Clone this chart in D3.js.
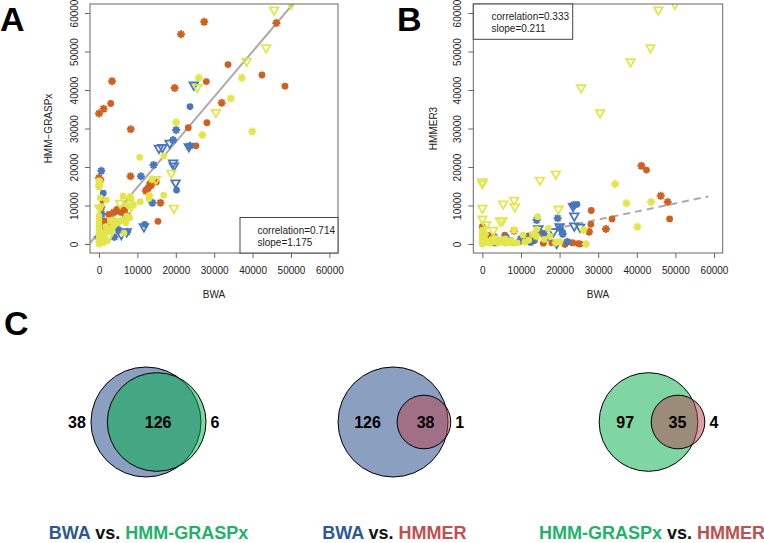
<!DOCTYPE html>
<html><head><meta charset="utf-8">
<script src="https://cdn.jsdelivr.net/npm/d3@7"></script>
<style>body{margin:0;background:#fff}svg{display:block;font-family:"Liberation Sans",Arial,Helvetica,sans-serif}</style>
</head><body><svg id="c" width="764" height="543"></svg>
<script>
// ---------------- DATA ----------------
const axisTicks = [0,10000,20000,30000,40000,50000,60000];
const panelLetters = ["A","B","C"];
const xTitle = "BWA";
const yTitles = ["HMM\u2212GRASPx","HMMER3"];
const statsA = ["correlation=0.714","slope=1.175"];
const statsB = ["correlation=0.333","slope=0.211"];
const fitA = [1.175, 3000];   // slope, intercept
const fitB = [0.211, 0];

// Panel A: [BWA, HMM-GRASPx]
const aOrangeStar = [[3400,42300],[21350,54500],[19700,40500],[8250,29800],[27400,57700],[46200,57400],[31950,36700],[8200,17600],[12800,14500],[0,33900],[1200,35100],[0,17200],[16000,10700],[13500,15200],[12200,13800],[5200,8600],[3800,8200],[600,9500],[7400,7300],[4500,5200]];
const aOrangeCircle = [[3050,36500],[33600,46600],[42450,43900],[48450,41000],[27950,42200],[28100,31500],[23250,30200],[25250,25500],[15350,5900],[2500,7700],[900,11400],[6700,8900],[5800,8200],[4700,9000],[1400,6000],[800,4000],[200,2500],[12500,14200],[13200,15700],[14900,16100],[500,16600],[2800,4200]];
const aBlueStar = [[600,19000],[20100,29600],[10900,17600],[14200,20500],[13900,10700],[7300,3100],[5100,3600],[23700,25500],[19300,27000],[3500,5400],[700,7800],[4000,1800]];
const aBlueCircle = [[23700,35700],[20200,14000],[1100,13200],[11900,5100],[200,6600],[1500,3300],[6800,6800],[3100,4700]];
const aBlueTri = [[24700,41300],[18400,26200],[15600,24900],[19300,21100],[19500,20300],[19950,15900],[23400,25300],[11700,4500],[7200,3200],[2300,4300],[5800,2500],[100,1200],[16500,25100]];
const aYellowStar = [[26000,43200],[37200,43200],[34300,37800],[20100,31600],[26900,28300],[39900,29200],[13800,16800],[8150,12300],[200,16200],[0,15100],[3200,3500],[500,700],[13100,12500]];
const aYellowCircle = [[10600,22500],[16900,22900],[16850,12700],[10750,11000],[6250,12500],[1900,11400],[6500,2800],[13000,11800],[7200,7200],[0,0],[0,800],[0,1600],[0,2400],[0,3200],[0,4000],[0,5000],[0,6200],[0,7300],[300,500],[600,1200],[1000,1800],[1500,2400],[2000,3000],[2500,3500],[3000,4000],[3500,4500],[4000,5000],[4500,5400],[5000,5800],[5500,6000],[6000,6100],[6500,6300],[1200,400],[2200,900],[400,2200],[800,3000],[1800,4500],[200,9500],[0,14800],[0,16400],[0,15500],[300,12000],[7800,9900],[8400,11600],[9000,10200],[3000,6000],[4000,6200],[7000,5500],[8000,6800]];
const aYellowTri = [[45600,60800],[50000,62300],[43500,51000],[38450,47500],[30450,34200],[25600,40700],[18850,18400],[14800,16800],[19500,9300],[5500,10600],[8400,9700],[100,9400],[2600,2000],[6800,11200]];

// Panel B: [BWA, HMMER3]
const bOrangeStar = [[41200,20300],[46200,12500],[48000,10900],[32000,3900],[27650,3200],[21400,0],[15350,2800],[8200,3400],[12500,1500],[2000,1200]];
const bOrangeCircle = [[42500,19200],[48500,6500],[33600,6500],[28200,8700],[28100,5100],[23300,300],[25300,0],[0,4500],[5800,2300],[11900,2100],[15800,200],[23400,300],[24800,100],[600,1000],[3000,300],[9500,600],[13500,900],[18000,300],[1500,2200]];
const bBlueStar = [[23600,10100],[19500,6700],[20100,4100],[14050,6200],[16000,2600],[3500,400],[10000,1200],[13000,900],[20800,2600],[22000,600]];
const bBlueCircle = [[3200,1900],[6200,1800],[24500,10300],[20800,3000],[12500,400],[16500,1500],[600,600]];
const bBlueTri = [[23800,7300],[23800,4700],[18400,3200],[19250,200],[23500,9800],[20000,4500],[25300,4400],[14500,4000],[12000,1600]];
const bYellowStar = [[34400,15600],[37300,10600],[43700,10900],[40150,4500],[26200,3650],[26800,0],[8200,3600],[14000,2000],[700,2500],[5000,1000],[19000,400]];
const bYellowCircle = [[14300,7100],[14050,3800],[10550,2300],[17050,4050],[20100,600],[0,0],[0,600],[0,1200],[0,1800],[0,2400],[0,3000],[0,3600],[500,300],[1000,800],[1500,400],[2000,200],[3000,600],[4000,300],[5000,500],[6000,200],[7000,400],[8000,200],[9000,300],[2500,1200],[3500,1500],[6000,1300],[7500,900],[11000,500],[12000,1000],[16000,1200],[17500,2000],[13000,2500]];
const bYellowTri = [[45550,60800],[49850,62300],[43550,51000],[38400,47350],[25600,40600],[30500,34100],[0,16200],[0,15700],[0,9300],[0,6500],[5400,10400],[8200,11400],[8400,9700],[14900,16600],[19000,18200],[19700,9100],[4600,6000],[5200,6100],[2800,3600],[1000,5000]];

// Venn data
const vennNames = [["BWA","HMM-GRASPx"],["BWA","HMMER"],["HMM-GRASPx","HMMER"]];
const vennOnlyA = [38,126,97];
const vennBoth = [126,38,35];
const vennOnlyB = [6,1,4];

// ---------------- STYLE / LAYOUT ----------------
const COL = {orange:"#d0601f", blue:"#4876bf", yellow:"#e3e64b"};
const setFill = {"BWA":"rgb(23,63,129)","HMM-GRASPx":"rgb(0,173,69)","HMMER":"rgb(181,65,77)"};
const titleCol = {"BWA":"#2d5a8e","HMM-GRASPx":"#1fb268","HMMER":"#c0504f"};
const svg = d3.select("#c");
const FS = 10;

function starPath(r){
  let p="";
  for(let i=0;i<4;i++){const a=i*Math.PI/4;const dx=r*Math.cos(a),dy=r*Math.sin(a);p+=`M${-dx},${-dy}L${dx},${dy}`;}
  return p;
}
function drawPoints(g, x, y, pts, color, shape){
  const sel = g.selectAll(null).data(pts).enter();
  if(shape==="circle"){
    sel.append("circle").attr("cx",d=>x(d[0])).attr("cy",d=>y(d[1])).attr("r",3.4).attr("fill",color);
  } else if(shape==="star"){
    const gg = sel.append("g").attr("transform",d=>`translate(${x(d[0])},${y(d[1])})`);
    gg.append("circle").attr("r",2.4).attr("fill",color);
    gg.append("path").attr("d",starPath(4)).attr("stroke",color).attr("stroke-width",2).attr("fill","none");
  } else {
    sel.append("path").attr("d",d3.symbol(d3.symbolTriangle,32)())
      .attr("transform",d=>`translate(${x(d[0])},${y(d[1])}) rotate(180)`)
      .attr("fill","none").attr("stroke",color).attr("stroke-width",1.8);
  }
}

function panel(cfg){
  const x = d3.scaleLinear().domain([-2350,62250]).range([cfg.x0,cfg.x1]);
  const y = d3.scaleLinear().domain([-2340,62340]).range([253,4]);
  const id = "clip"+cfg.letter;
  svg.append("clipPath").attr("id",id).append("rect")
    .attr("x",cfg.x0).attr("y",4).attr("width",cfg.x1-cfg.x0).attr("height",249);
  const plot = svg.append("g").attr("clip-path",`url(#${id})`);
  const fx = cfg.fitRange;
  plot.append("line").attr("x1",x(fx[0])).attr("y1",y(cfg.fit[0]*fx[0]+cfg.fit[1]))
    .attr("x2",x(fx[1])).attr("y2",y(cfg.fit[0]*fx[1]+cfg.fit[1]))
    .attr("stroke","#aaaaaa").attr("stroke-width",2).attr("stroke-dasharray",cfg.dash);
  cfg.series.forEach(s=>drawPoints(plot,x,y,s[0],COL[s[1]],s[2]));
  svg.append("rect").attr("x",cfg.x0).attr("y",4).attr("width",cfg.x1-cfg.x0).attr("height",249)
    .attr("fill","none").attr("stroke","#666").attr("stroke-width",1);
  const ax = svg.append("g").attr("transform","translate(0,253)")
    .call(d3.axisBottom(x).tickValues(axisTicks).tickFormat(d3.format("d")).tickSize(5).tickPadding(8.5));
  ax.select(".domain").remove();
  ax.selectAll(".tick line").attr("stroke","#666");
  ax.selectAll("text").attr("font-size",FS).attr("fill","#222").attr("font-family","Liberation Sans, Arial, sans-serif");
  const ay = svg.append("g").attr("transform",`translate(${cfg.x0},0)`)
    .call(d3.axisLeft(y).tickValues(axisTicks).tickFormat(d3.format("d")).tickSize(5));
  ay.select(".domain").remove();
  ay.selectAll(".tick line").attr("stroke","#666");
  ay.selectAll("text").attr("font-size",FS).attr("fill","#222").attr("font-family","Liberation Sans, Arial, sans-serif")
    .attr("transform","rotate(-90)").attr("x",0).attr("y",-cfg.ylabOff).attr("dy","0.35em").attr("text-anchor","middle");
  svg.append("text").attr("x",(cfg.x0+cfg.x1)/2).attr("y",298).attr("text-anchor","middle")
    .attr("font-size",FS).attr("fill","#222").text(xTitle);
  svg.append("text").attr("transform",`translate(${cfg.ytitleX},128.5) rotate(-90)`).attr("dy","0.35em")
    .attr("text-anchor","middle").attr("font-size",FS).attr("fill","#222").text(cfg.ytitle);
  const L = cfg.legend;
  svg.append("rect").attr("x",L.x).attr("y",L.y).attr("width",L.w).attr("height",L.h)
    .attr("fill","#fff").attr("stroke","#444").attr("stroke-width",1);
  cfg.stats.forEach((t,i)=>svg.append("text").attr("x",L.tx).attr("y",L.ty+i*11.5)
    .attr("font-size",FS).attr("fill","#222").text(t));
  svg.append("text").attr("x",cfg.letterX).attr("y",31).attr("font-size",34).attr("font-weight","bold")
    .attr("fill","#000").text(cfg.letter);
}

panel({letter:panelLetters[0],letterX:0,x0:90,x1:338,ylabOff:16,ytitleX:48,ytitle:yTitles[0],
  fit:fitA,fitRange:[-2350,62250],dash:null,stats:statsA,
  legend:{x:240,y:217.5,w:98,h:35.5,tx:257.5,ty:234},
  series:[[aOrangeCircle,"orange","circle"],[aOrangeStar,"orange","star"],[aBlueCircle,"blue","circle"],[aBlueStar,"blue","star"],[aBlueTri,"blue","tri"],
          [aYellowCircle,"yellow","circle"],[aYellowStar,"yellow","star"],[aYellowTri,"yellow","tri"]]});
panel({letter:panelLetters[1],letterX:397,x0:473.3,x1:722.7,ylabOff:15.5,ytitleX:433,ytitle:yTitles[1],
  fit:fitB,fitRange:[0,58500],dash:"7,5",stats:statsB,
  legend:{x:473.3,y:4,w:99.4,h:35.3,tx:491.5,ty:20},
  series:[[bOrangeCircle,"orange","circle"],[bOrangeStar,"orange","star"],[bBlueCircle,"blue","circle"],[bBlueStar,"blue","star"],[bBlueTri,"blue","tri"],
          [bYellowCircle,"yellow","circle"],[bYellowStar,"yellow","star"],[bYellowTri,"yellow","tri"]]});

// ---------------- VENN ----------------
svg.append("text").attr("x",4).attr("y",335).attr("font-size",34).attr("font-weight","bold").attr("fill","#000").text(panelLetters[2]);
const maxSet = d3.max(vennOnlyA.map((v,i)=>v+vennBoth[i]).concat(vennOnlyB.map((v,i)=>v+vennBoth[i])));
const rScale = d3.scaleSqrt().domain([0,maxSet]).range([0,55]);
function lens(r1,r2,d){
  if(d>=r1+r2) return 0;
  if(d<=Math.abs(r1-r2)) return Math.PI*Math.min(r1,r2)**2;
  return r1*r1*Math.acos((d*d+r1*r1-r2*r2)/(2*d*r1))+r2*r2*Math.acos((d*d+r2*r2-r1*r1)/(2*d*r2))
    -0.5*Math.sqrt((-d+r1+r2)*(d+r1-r2)*(d-r1+r2)*(d+r1+r2));
}
const vennCX = [148.5,394.4,652];
const vennCY = 422;
vennNames.forEach((names,i)=>{
  const nA = vennOnlyA[i]+vennBoth[i], nB = vennOnlyB[i]+vennBoth[i];
  const rA = rScale(nA), rB = rScale(nB);
  const target = Math.PI*rA*rA*vennBoth[i]/nA;
  let lo=Math.abs(rA-rB)+1e-6, hi=rA+rB;
  for(let k=0;k<60;k++){const m=(lo+hi)/2; if(lens(rA,rB,m)>target) lo=m; else hi=m;}
  const d=(lo+hi)/2;
  const left = vennCX[i]-(rA+d+rB)/2;
  const cA = left+rA, cB = cA+d;
  const g = svg.append("g");
  g.append("circle").attr("cx",cA).attr("cy",vennCY).attr("r",rA).attr("fill",setFill[names[0]]).attr("fill-opacity",0.5).attr("stroke","#000").attr("stroke-width",1);
  g.append("circle").attr("cx",cB).attr("cy",vennCY).attr("r",rB).attr("fill",setFill[names[1]]).attr("fill-opacity",0.5).attr("stroke","#000").attr("stroke-width",1);
  const crescent = (cB-rB)-(cA-rA);
  const xOnlyA = crescent<30 ? cA-rA-14 : (cA-rA+cB-rB)/2;
  const xBoth = crescent<30 ? cB+1.5 : ((cB-rB)+(cA+rA))/2+3;
  const xOnlyB = Math.max(cB+rB,cA+rA)+9;
  [[xOnlyA,vennOnlyA[i]],[xBoth,vennBoth[i]],[xOnlyB,vennOnlyB[i]]].forEach(p=>{
    g.append("text").attr("x",p[0]).attr("y",vennCY).attr("dy","0.36em").attr("text-anchor","middle")
      .attr("font-size",16).attr("font-weight","bold").attr("fill","#000").text(p[1]);
  });
  const t = svg.append("text").attr("x",vennCX[i]).attr("y",539).attr("text-anchor","middle")
    .attr("font-size",18).attr("font-weight","bold");
  t.append("tspan").attr("fill",titleCol[names[0]]).text(names[0]);
  t.append("tspan").attr("fill","#111").text(" vs. ");
  t.append("tspan").attr("fill",titleCol[names[1]]).text(names[1]);
});
</script></body></html>
